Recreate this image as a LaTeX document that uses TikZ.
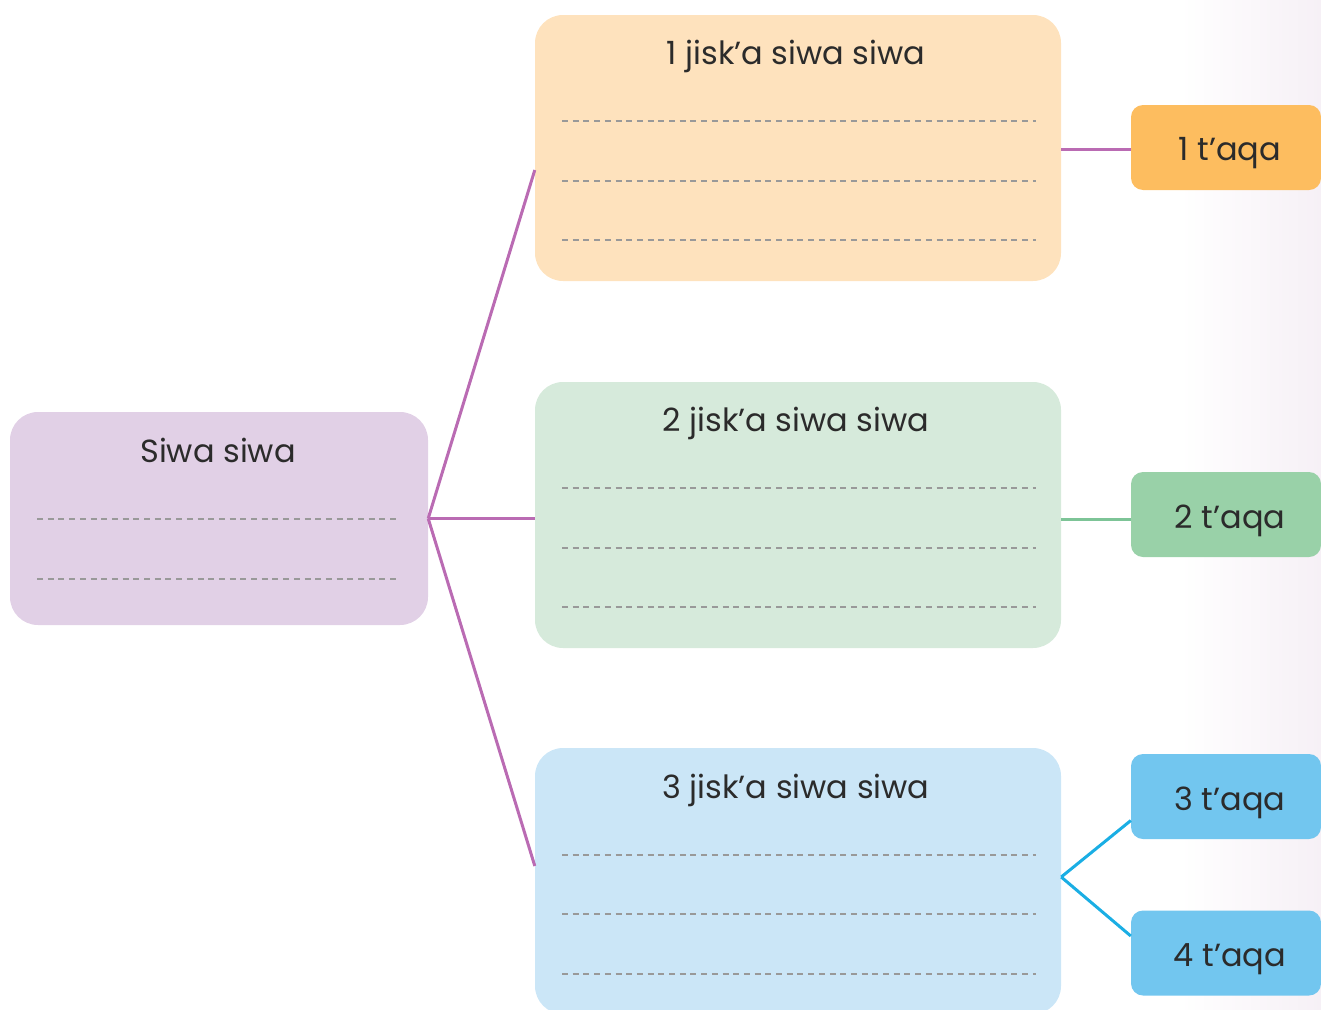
\documentclass[tikz,border=0pt]{standalone}
\usepackage{fontspec}
\setmainfont{Poppins}
\usetikzlibrary{calc}
\definecolor{txt}{HTML}{2B2B2B}
\definecolor{cmain}{HTML}{E1D0E6}
\definecolor{cone}{HTML}{FEE2BD}
\definecolor{ctwo}{HTML}{D6EADB}
\definecolor{cthree}{HTML}{CBE6F7}
\definecolor{corange}{HTML}{FDBD5F}
\definecolor{cgreen}{HTML}{99D1A8}
\definecolor{cblue}{HTML}{72C6EF}
\definecolor{lpurple}{HTML}{BA6BB3}
\definecolor{lgreen}{HTML}{7DC497}
\definecolor{lblue}{HTML}{1AAEE4}
\definecolor{dgray}{HTML}{999999}
\definecolor{shadecol}{HTML}{F6F0F6}
\tikzset{
  bigbox/.style={rectangle, rounded corners=28pt, inner sep=0pt, minimum width=526pt, minimum height=266pt},
  mainbox/.style={rectangle, rounded corners=28pt, inner sep=0pt, fill=cmain, minimum width=418pt, minimum height=213pt},
  tagbox/.style={rectangle, rounded corners=12pt, inner sep=0pt, minimum width=190pt, minimum height=85pt},
  title/.style={text=txt, font=\fontsize{32}{38}\selectfont, inner sep=0pt, text depth=0pt},
  writeline/.style={draw=dgray, line width=2pt, dash pattern=on 6pt off 4.7pt},
  conn/.style={line width=3pt}
}
\begin{document}
\begin{tikzpicture}[x=1pt,y=-1pt]
\useasboundingbox (0,0) rectangle (1321,1009);
\clip (0,0) rectangle (1321,1009);
\shade[left color=white, right color=shadecol] (1180,0) rectangle (1321,1009);
% boxes
\node[mainbox] (main) at (219,518.5) {};
\node[bigbox, fill=cone] (b1) at (798,148) {};
\node[bigbox, fill=ctwo] (b2) at (798,515) {};
\node[bigbox, fill=cthree] (b3) at (798,881) {};
\node[tagbox, fill=corange] (o1) at (1226,147.5) {};
\node[tagbox, fill=cgreen] (o2) at (1226,514.5) {};
\node[tagbox, fill=cblue] (o3) at (1226,796.5) {};
\node[tagbox, fill=cblue] (o4) at (1226,953) {};
% tag texts
\node[title] (l1) at (1230,149) {1 t’aqa};
\node[title] (l2) at (1230,517) {2 t’aqa};
\node[title] (l3) at (1230,799) {3 t’aqa};
\node[title] (l4) at (1230,955) {4 t’aqa};
% titles
\node[title] (tmain) at (218,450) {Siwa siwa};
\node[title] (t1) at (796,52) {1 jisk’a siwa siwa};
\node[title] (t2) at (796,419) {2 jisk’a siwa siwa};
\node[title] (t3) at (796,786) {3 jisk’a siwa siwa};
% writing lines
\foreach \y in {519,579} \draw[writeline] (37,\y) -- (400,\y);
\foreach \y in {121,181,240,488,548,607,855,914,974} \draw[writeline] (562,\y) -- (1036,\y);
% connectors
\coordinate (hub) at (main.east);
\coordinate (p1) at ($(o1.west)+(0,1.5)$);
\coordinate (p2) at ($(o2.west)+(0,4.5)$);
\draw[conn, lpurple] (hub) -- ($(b1.west)+(0,22)$);
\draw[conn, lpurple] (hub) -- (hub -| b2.west);
\draw[conn, lpurple] (hub) -- ($(b3.west)+(0,-15)$);
\draw[conn, lpurple] (p1 -| b1.east) -- (p1);
\draw[conn, lgreen] (p2 -| b2.east) -- (p2);
\coordinate (hub3) at ($(b3.east)+(0,-4)$);
\draw[conn, lblue] (hub3) -- ($(o3.west)+(0,24)$);
\draw[conn, lblue] (hub3) -- ($(o4.west)+(0,-17)$);
\end{tikzpicture}
\end{document}
